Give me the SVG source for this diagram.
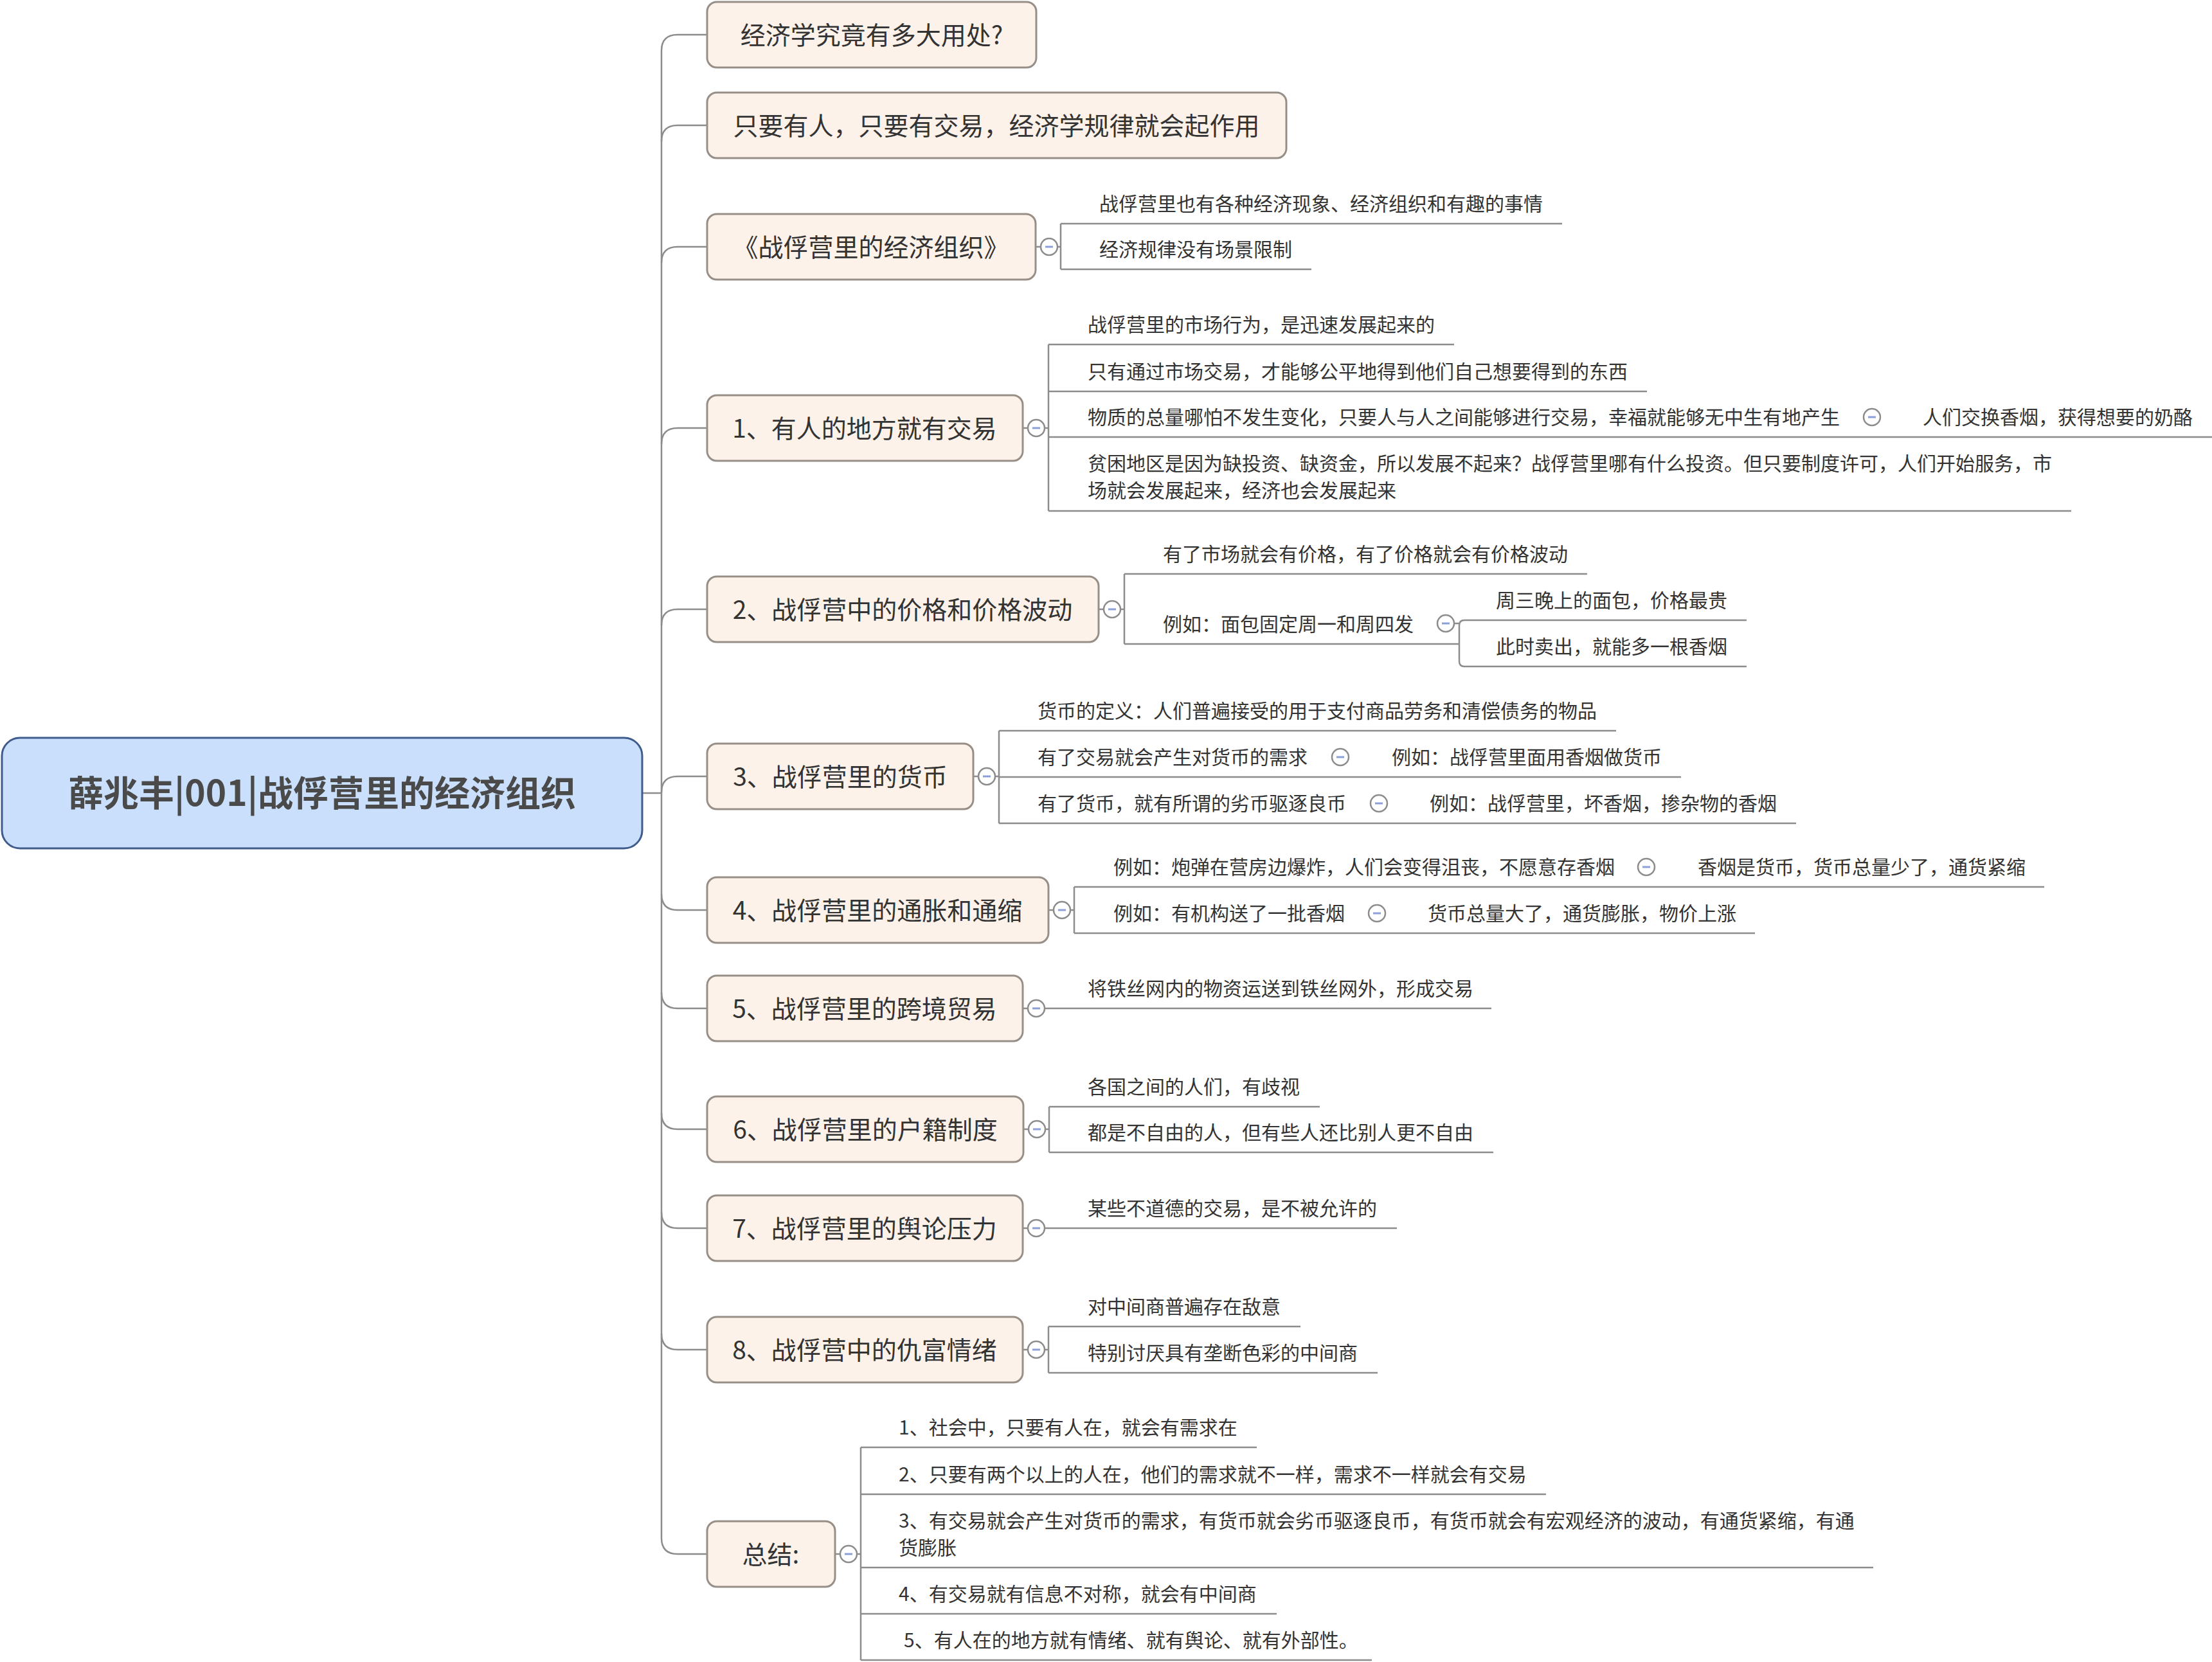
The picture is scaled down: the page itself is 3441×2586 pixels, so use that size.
<svg xmlns="http://www.w3.org/2000/svg" xmlns:xlink="http://www.w3.org/1999/xlink" width="3441" height="2586" viewBox="0 0 3441 2586">
<style>
text{font-family:"Noto Sans CJK SC","Noto Sans",sans-serif;fill:#333333}
.root rect{fill:#cadffc;stroke:#3f5c8c;stroke-width:3}
.root text{font-size:55px;font-weight:bold;fill:#4a4a4a;text-anchor:middle}
.n1 rect{fill:#fdf2e9;stroke:#978f87;stroke-width:3}
.n1 text{font-size:39px;text-anchor:middle}
.n2 text{font-size:30px}
.ul{stroke:#8c8c8c;stroke-width:2.5;fill:none}
.ln{stroke:#8c8c8c;stroke-width:2.5;fill:none}
.cc circle{fill:#ffffff;stroke:#8c8c8c;stroke-width:2.5}
.cc line{stroke:#8c9fd6;stroke-width:3}
</style>
<defs>
<g id="col" class="cc"><circle cx="0" cy="0" r="13"/><line x1="-6" y1="0" x2="6" y2="0"/></g>
</defs>
<rect width="3441" height="2586" fill="#ffffff"/>

<g id="connectors">
<path class="ln" d="M999,1234 H1029"/>
<path class="ln" d="M1029,79 V2393"/>
<path class="ln" d="M1029,79 Q1029,54 1054,54 H1100"/>
<path class="ln" d="M1029,220 Q1029,195 1054,195 H1100"/>
<path class="ln" d="M1029,409 Q1029,384 1054,384 H1100"/>
<path class="ln" d="M1029,691 Q1029,666 1054,666 H1100"/>
<path class="ln" d="M1029,973 Q1029,948 1054,948 H1100"/>
<path class="ln" d="M1029,1233 Q1029,1208 1054,1208 H1100"/>
<path class="ln" d="M1029,1391 Q1029,1416 1054,1416 H1100"/>
<path class="ln" d="M1029,1544 Q1029,1569 1054,1569 H1100"/>
<path class="ln" d="M1029,1732 Q1029,1757 1054,1757 H1100"/>
<path class="ln" d="M1029,1886 Q1029,1911 1054,1911 H1100"/>
<path class="ln" d="M1029,2075 Q1029,2100 1054,2100 H1100"/>
<path class="ln" d="M1029,2393 Q1029,2418 1054,2418 H1100"/>
<!-- node to collapse circle stubs and circle to bracket -->
<path class="ln" d="M1611,384 H1619 M1645,384 H1650 M1650,348 V419"/>
<path class="ln" d="M1591,666 H1599 M1625,666 H1631 M1631,536 V795"/>
<path class="ln" d="M1709,948 H1717 M1743,948 H1749 M1749,893 V1002"/>
<path class="ln" d="M2262,970 H2270 M2278,965 Q2270,965 2270,973 V1029 Q2270,1037 2278,1037"/>
<path class="ln" d="M1514,1208 H1522 M1548,1208 H1554 M1554,1137 V1281"/>
<path class="ln" d="M1631,1416 H1639 M1665,1416 H1671 M1671,1380 V1452"/>
<path class="ln" d="M1591,1569 H1599"/>
<path class="ln" d="M1592,1757 H1600 M1626,1757 H1632 M1632,1722 V1793"/>
<path class="ln" d="M1591,1911 H1599"/>
<path class="ln" d="M1591,2100 H1599 M1625,2100 H1631 M1631,2064 V2136"/>
<path class="ln" d="M1299,2418 H1307 M1333,2418 H1339 M1339,2252 V2583"/>
</g>

<g id="root" class="root">
<rect x="3" y="1148" width="996" height="172" rx="28"/>
<text x="501" y="1254">薛兆丰|001|战俘营里的经济组织</text>
</g>

<g id="n1" class="n1"><rect x="1100" y="3" width="512" height="102" rx="15"/><text x="1356" y="69">经济学究竟有多大用处?</text></g>
<g id="n2" class="n1"><rect x="1100" y="144" width="901" height="102" rx="15"/><text x="1550" y="210">只要有人，只要有交易，经济学规律就会起作用</text></g>
<g id="n3" class="n1"><rect x="1100" y="333" width="511" height="102" rx="15"/><text x="1355" y="399">《战俘营里的经济组织》</text><use xlink:href="#col" x="1632" y="384"/></g>
<g id="n4" class="n1"><rect x="1100" y="615" width="491" height="102" rx="15"/><text x="1345" y="681">1、有人的地方就有交易</text><use xlink:href="#col" x="1612" y="666"/></g>
<g id="n5" class="n1"><rect x="1100" y="897" width="609" height="102" rx="15"/><text x="1404" y="963">2、战俘营中的价格和价格波动</text><use xlink:href="#col" x="1730" y="948"/></g>
<g id="n6" class="n1"><rect x="1100" y="1157" width="414" height="102" rx="15"/><text x="1307" y="1223">3、战俘营里的货币</text><use xlink:href="#col" x="1535" y="1208"/></g>
<g id="n7" class="n1"><rect x="1100" y="1365" width="531" height="102" rx="15"/><text x="1365" y="1431">4、战俘营里的通胀和通缩</text><use xlink:href="#col" x="1652" y="1416"/></g>
<g id="n8" class="n1"><rect x="1100" y="1518" width="491" height="102" rx="15"/><text x="1345" y="1584">5、战俘营里的跨境贸易</text><use xlink:href="#col" x="1612" y="1569"/></g>
<g id="n9" class="n1"><rect x="1100" y="1706" width="492" height="102" rx="15"/><text x="1346" y="1772">6、战俘营里的户籍制度</text><use xlink:href="#col" x="1613" y="1757"/></g>
<g id="n10" class="n1"><rect x="1100" y="1860" width="491" height="102" rx="15"/><text x="1345" y="1926">7、战俘营里的舆论压力</text><use xlink:href="#col" x="1612" y="1911"/></g>
<g id="n11" class="n1"><rect x="1100" y="2049" width="491" height="102" rx="15"/><text x="1345" y="2115">8、战俘营中的仇富情绪</text><use xlink:href="#col" x="1612" y="2100"/></g>
<g id="n12" class="n1"><rect x="1100" y="2367" width="199" height="102" rx="15"/><text x="1199" y="2433">总结:</text><use xlink:href="#col" x="1320" y="2418"/></g>

<g id="n3a" class="n2"><text x="1710" y="328">战俘营里也有各种经济现象、经济组织和有趣的事情</text><path class="ul" d="M1650,348 H2430"/></g>
<g id="n3b" class="n2"><text x="1710" y="399">经济规律没有场景限制</text><path class="ul" d="M1650,419 H2040"/></g>

<g id="n4a" class="n2"><text x="1692" y="516">战俘营里的市场行为，是迅速发展起来的</text><path class="ul" d="M1631,536 H2262"/></g>
<g id="n4b" class="n2"><text x="1692" y="589">只有通过市场交易，才能够公平地得到他们自己想要得到的东西</text><path class="ul" d="M1631,609 H2562"/></g>
<g id="n4c" class="n2"><text x="1692" y="660">物质的总量哪怕不发生变化，只要人与人之间能够进行交易，幸福就能够无中生有地产生</text><path class="ul" d="M1631,680 H2900"/><use xlink:href="#col" x="2912" y="649"/></g>
<g id="n4c1" class="n2"><text x="2991" y="660">人们交换香烟，获得想要的奶酪</text><path class="ul" d="M2900,680 H3441"/></g>
<g id="n4d" class="n2"><text x="1692" y="732">贫困地区是因为缺投资、缺资金，所以发展不起来？战俘营里哪有什么投资。但只要制度许可，人们开始服务，市</text><text x="1692" y="774">场就会发展起来，经济也会发展起来</text><path class="ul" d="M1631,795 H3222"/></g>

<g id="n5a" class="n2"><text x="1809" y="873">有了市场就会有价格，有了价格就会有价格波动</text><path class="ul" d="M1749,893 H2469"/></g>
<g id="n5b" class="n2"><text x="1809" y="982">例如：面包固定周一和周四发</text><path class="ul" d="M1749,1002 H2270"/><use xlink:href="#col" x="2249" y="970"/></g>
<g id="n5b1" class="n2"><text x="2327" y="945">周三晚上的面包，价格最贵</text><path class="ul" d="M2278,965 H2717"/></g>
<g id="n5b2" class="n2"><text x="2327" y="1017">此时卖出，就能多一根香烟</text><path class="ul" d="M2278,1037 H2717"/></g>

<g id="n6a" class="n2"><text x="1614" y="1117">货币的定义：人们普遍接受的用于支付商品劳务和清偿债务的物品</text><path class="ul" d="M1554,1137 H2514"/></g>
<g id="n6b" class="n2"><text x="1614" y="1189">有了交易就会产生对货币的需求</text><path class="ul" d="M1554,1209 H2085"/><use xlink:href="#col" x="2085" y="1178"/></g>
<g id="n6b1" class="n2"><text x="2165" y="1189">例如：战俘营里面用香烟做货币</text><path class="ul" d="M2085,1209 H2615"/></g>
<g id="n6c" class="n2"><text x="1614" y="1261">有了货币，就有所谓的劣币驱逐良币</text><path class="ul" d="M1554,1281 H2145"/><use xlink:href="#col" x="2145" y="1250"/></g>
<g id="n6c1" class="n2"><text x="2224" y="1261">例如：战俘营里，坏香烟，掺杂物的香烟</text><path class="ul" d="M2145,1281 H2794"/></g>

<g id="n7a" class="n2"><text x="1732" y="1360">例如：炮弹在营房边爆炸，人们会变得沮丧，不愿意存香烟</text><path class="ul" d="M1671,1380 H2561"/><use xlink:href="#col" x="2561" y="1349"/></g>
<g id="n7a1" class="n2"><text x="2641" y="1360">香烟是货币，货币总量少了，通货紧缩</text><path class="ul" d="M2561,1380 H3180"/></g>
<g id="n7b" class="n2"><text x="1732" y="1432">例如：有机构送了一批香烟</text><path class="ul" d="M1671,1452 H2142"/><use xlink:href="#col" x="2142" y="1421"/></g>
<g id="n7b1" class="n2"><text x="2221" y="1432">货币总量大了，通货膨胀，物价上涨</text><path class="ul" d="M2142,1452 H2730"/></g>

<g id="n8a" class="n2"><text x="1692" y="1549">将铁丝网内的物资运送到铁丝网外，形成交易</text><path class="ul" d="M1625,1569 H2320"/></g>

<g id="n9a" class="n2"><text x="1692" y="1702">各国之间的人们，有歧视</text><path class="ul" d="M1632,1722 H2053"/></g>
<g id="n9b" class="n2"><text x="1692" y="1773">都是不自由的人，但有些人还比别人更不自由</text><path class="ul" d="M1632,1793 H2323"/></g>

<g id="n10a" class="n2"><text x="1692" y="1891">某些不道德的交易，是不被允许的</text><path class="ul" d="M1625,1911 H2173"/></g>

<g id="n11a" class="n2"><text x="1692" y="2044">对中间商普遍存在敌意</text><path class="ul" d="M1631,2064 H2023"/></g>
<g id="n11b" class="n2"><text x="1692" y="2116">特别讨厌具有垄断色彩的中间商</text><path class="ul" d="M1631,2136 H2143"/></g>

<g id="n12a" class="n2"><text x="1398" y="2232">1、社会中，只要有人在，就会有需求在</text><path class="ul" d="M1339,2252 H1955"/></g>
<g id="n12b" class="n2"><text x="1398" y="2305">2、只要有两个以上的人在，他们的需求就不一样，需求不一样就会有交易</text><path class="ul" d="M1339,2325 H2405"/></g>
<g id="n12c" class="n2"><text x="1398" y="2377">3、有交易就会产生对货币的需求，有货币就会劣币驱逐良币，有货币就会有宏观经济的波动，有通货紧缩，有通</text><text x="1398" y="2419">货膨胀</text><path class="ul" d="M1339,2439 H2914"/></g>
<g id="n12d" class="n2"><text x="1398" y="2491">4、有交易就有信息不对称，就会有中间商</text><path class="ul" d="M1339,2511 H1986"/></g>
<g id="n12e" class="n2"><text x="1406" y="2563">5、有人在的地方就有情绪、就有舆论、就有外部性。</text><path class="ul" d="M1339,2583 H2134"/></g>
</svg>
